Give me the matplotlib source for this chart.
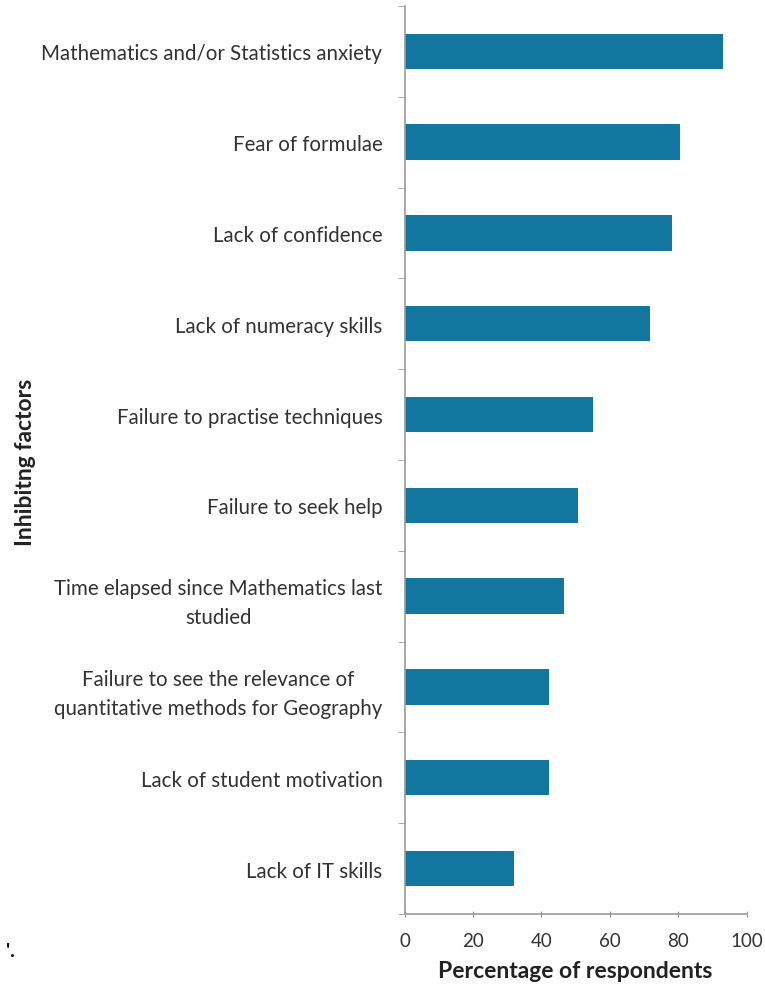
import matplotlib.pyplot as plt
import numpy as np

factors = ['Mathematics and/or Statistics anxiety',
           'Fear of formulae',
           'Lack of confidence',
           'Lack of numeracy skills',
           'Failure to practise techniques',
           'Failure to seek help',
           'Time elapsed since Mathematics last\nstudied',
           'Failure to see the relevance of\nquantitative methods for Geography',
           'Lack of student motivation',
           'Lack of IT skills']
percent = [93.2, 80.5, 78.3, 71.8, 55.1, 50.7, 46.6, 42.3, 42.3, 31.9]
x_ticks = [0, 20, 40, 60, 80, 100]

plt.rcParams['font.family'] = ['Lato', 'DejaVu Sans']

fig = plt.figure(figsize=(7.65, 9.87), dpi=100)
ax = fig.add_axes([0.529, 0.073, 0.447, 0.920])

pos = np.arange(len(factors))
ax.barh(pos, percent, height=0.39, color='#13769f')

ax.set_ylim(len(factors) - 0.5, -0.5)
ax.set_xlim(0, 100)
ax.set_yticks(pos)
ax.set_yticklabels(factors, fontsize=14.8, color='#333333', ha='right',
                   multialignment='center', linespacing=1.55)
ax.set_yticks(np.arange(-0.5, len(factors), 1), minor=True)
ax.tick_params(axis='y', which='major', length=0, pad=16)
ax.tick_params(axis='y', which='minor', length=5, direction='out', color='#999999')
ax.set_xticks(x_ticks)
ax.tick_params(axis='x', length=4, direction='inout', color='#999999', labelsize=13.5,
               labelcolor='#333333', pad=11)

for side in ['top', 'right']:
    ax.spines[side].set_visible(False)
for side in ['left', 'bottom']:
    ax.spines[side].set_color('#999999')
    ax.spines[side].set_linewidth(1.2)

ax.set_xlabel('Percentage of respondents', fontsize=16.5, fontweight='bold', color='#222222', labelpad=8)
fig.text(0.033, 0.532, 'Inhibitng factors', rotation=90, fontsize=16.5, fontweight='bold',
         color='#222222', ha='center', va='center')
fig.text(0.008, 0.03, "'.", fontsize=14, fontweight='bold', color='#111111')

fig.savefig('out.png', dpi=100)
